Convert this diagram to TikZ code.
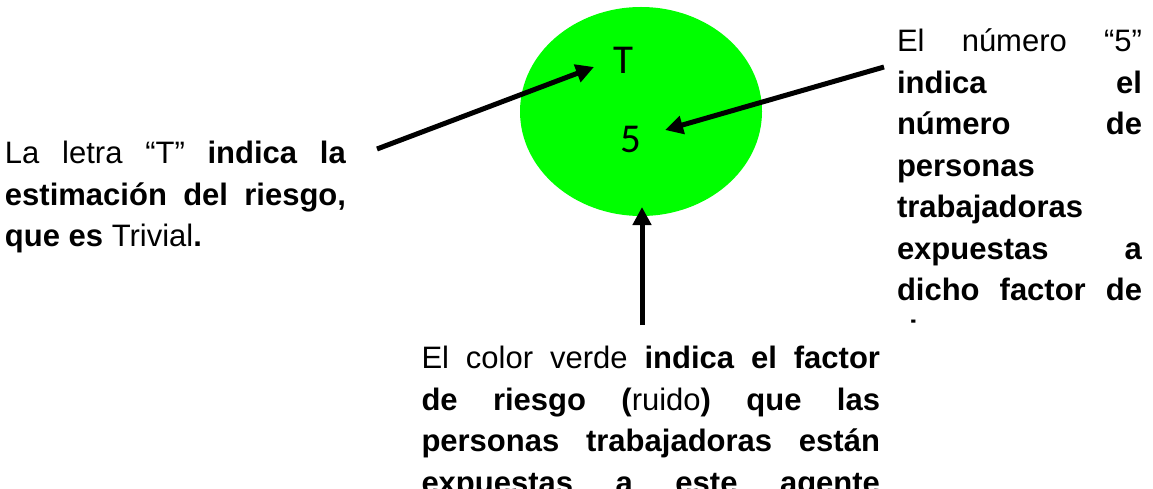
\documentclass[tikz,border=0pt]{standalone}
\usepackage{fontspec}
\setmainfont{Liberation Sans}
\newfontfamily\calfont{Carlito}
\usetikzlibrary{arrows.meta}
\definecolor{limegreen}{RGB}{0,255,0}
\tikzset{
  x=1pt, y=-1pt,
  bodytext/.style={inner sep=0pt, outer sep=0pt, anchor=base west, align=justify,
    font=\fontsize{31}{41.5}\selectfont},
  bigchar/.style={inner sep=0pt, anchor=base, font=\calfont\fontsize{41}{41}\selectfont},
  pointer/.style={line width=5pt, -{Triangle[length=18pt,width=18pt]}},
}
\begin{document}
\begin{tikzpicture}
\useasboundingbox (0,0) rectangle (1153,489);
% green ellipse
\fill[limegreen] (641,111.5) ellipse [x radius=121, y radius=104.5];
\node[bigchar] (tchar) at (623,74) {T};
\node[bigchar] (fivechar) at (631,153) {5};
% left text
\node[bodytext, text width=341pt] (lefttext) at (5,164)
  {La letra “T” \textbf{indica la}\linebreak\textbf{estimación del riesgo,}\linebreak\textbf{que es} Trivial\textbf{.}};
% right text (clipped)
\begin{scope}
\clip (880,0) rectangle (1153,323);
\node[bodytext, text width=245pt] (righttext) at (897,52)
  {El número “5”\linebreak\textbf{indica el}\linebreak\textbf{número de}\linebreak\textbf{personas}\linebreak\textbf{trabajadoras}\linebreak\textbf{expuestas a}\linebreak\textbf{dicho factor de}\linebreak\textbf{riesgo.}};
\end{scope}
% bottom text (clipped)
\begin{scope}
\clip (400,330) rectangle (900,489);
\node[bodytext, text width=458.5pt] (bottomtext) at (421.5,368.5)
  {El color verde \textbf{indica el factor}\linebreak\textbf{de riesgo (}ruido\textbf{) que las}\linebreak\textbf{personas trabajadoras están}\linebreak\textbf{expuestas a este agente}\parfillskip=0pt\par};
\end{scope}
% arrows
\coordinate (lstart) at (377,149);
\coordinate (ltip) at (594,67);
\coordinate (rstart) at (884,67);
\coordinate (rtip) at (665,130);
\coordinate (bstart) at (642,325);
\coordinate (btip) at (642,207);
\draw[pointer] (lstart) -- (ltip);
\draw[pointer] (rstart) -- (rtip);
\draw[pointer] (bstart) -- (btip);
\end{tikzpicture}
\end{document}
